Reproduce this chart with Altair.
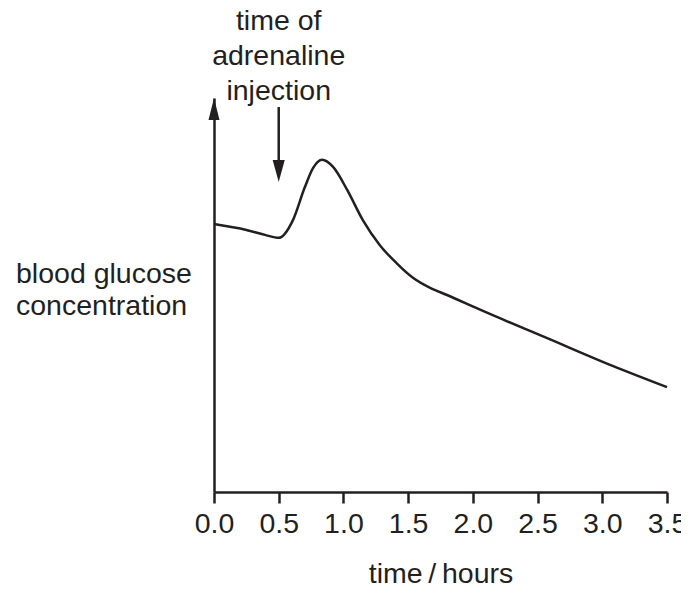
import altair as alt
import pandas as pd

INK = "#231f20"
FONT = "Liberation Sans"
FS = 28.5

# curve (time in hours, concentration in arbitrary units 0-100)
hours = [0.0, 0.25, 0.4, 0.5, 0.61, 0.70, 0.765, 0.835, 0.92, 1.03, 1.15, 1.28,
         1.41, 1.54, 1.67, 1.80, 2.06, 2.57, 3.08, 3.5]
glucose = [68.0, 66.5, 65.2, 64.5, 69.0, 77.2, 82.2, 84.3, 82.5, 76.6, 69.0, 62.7,
           58.1, 54.3, 51.8, 50.0, 46.2, 39.1, 32.0, 26.6]
x_ticks = [0.0, 0.5, 1.0, 1.5, 2.0, 2.5, 3.0, 3.5]

# annotation
injection_time = [0.5]
injection_top = [97.7]
injection_bottom = [80.5]
injection_head = [81.5]
annotation_lines = ["time of", "adrenaline", "injection"]
annotation_y = [-68, -33, 2]
ylabel_lines = ["blood glucose", "concentration"]
ylabel_y = [185, 217]
axis_arrow_time = [0.0]
axis_arrow_value = [97.2]

curve_df = pd.DataFrame({"time": hours, "glucose": glucose})
inj_df = pd.DataFrame({"time": injection_time, "top": injection_top,
                       "bottom": injection_bottom, "head": injection_head})
ann_df = pd.DataFrame({"time": injection_time * 3, "text": annotation_lines, "py": annotation_y})
ylab_df = pd.DataFrame({"text": ylabel_lines, "py": ylabel_y})
arrow_df = pd.DataFrame({"time": axis_arrow_time, "glucose": axis_arrow_value})

x_scale = alt.Scale(domain=[0, 3.5], nice=False, zero=False)
y_scale = alt.Scale(domain=[0, 100], nice=False, zero=False)

line = alt.Chart(curve_df).mark_line(
    color=INK, strokeWidth=2.5, interpolate="monotone"
).encode(
    x=alt.X("time:Q", scale=x_scale, axis=alt.Axis(
        values=x_ticks, format=".1f", title="time\u2009/\u2009hours",
        labelFont=FONT, titleFont=FONT, labelFontSize=FS, titleFontSize=FS,
        titleFontWeight="normal", labelColor=INK, titleColor=INK,
        tickSize=11, tickWidth=2.5, tickColor=INK,
        domainWidth=2.5, domainColor=INK, grid=False,
        labelBaseline="alphabetic", labelPadding=29, labelOverlap=False,
        labelFlush=False, labelBound=False,
        titleBaseline="alphabetic", titleY=90)),
    y=alt.Y("glucose:Q", scale=y_scale, axis=alt.Axis(
        title=None, labels=False, ticks=False, grid=False,
        domainWidth=2.5, domainColor=INK)),
)

yarrow = alt.Chart(arrow_df).mark_point(
    shape="M-0.5,1L0.5,1L0,-1Z", filled=True, size=484, color=INK, opacity=1
).encode(x=alt.X("time:Q", scale=x_scale), y=alt.Y("glucose:Q", scale=y_scale))

inj_rule = alt.Chart(inj_df).mark_rule(color=INK, strokeWidth=2.5).encode(
    x=alt.X("time:Q", scale=x_scale),
    y=alt.Y("top:Q", scale=y_scale),
    y2="bottom:Q",
)

inj_head = alt.Chart(inj_df).mark_point(
    shape="M-0.55,-1L0.55,-1L0,1Z", filled=True, size=484, color=INK, opacity=1
).encode(x=alt.X("time:Q", scale=x_scale), y=alt.Y("head:Q", scale=y_scale))

ann_text = alt.Chart(ann_df).mark_text(
    font=FONT, fontSize=FS, color=INK, align="center", baseline="alphabetic"
).encode(
    x=alt.X("time:Q", scale=x_scale),
    y=alt.Y("py:Q", scale=None),
    text="text:N",
)

ylab_text = alt.Chart(ylab_df).mark_text(
    font=FONT, fontSize=FS, color=INK, align="left", baseline="alphabetic"
).encode(
    x=alt.value(-198),
    y=alt.Y("py:Q", scale=None),
    text="text:N",
)

chart = alt.layer(line, yarrow, inj_rule, inj_head, ann_text, ylab_text).properties(
    width=453, height=394,
    padding={"left": 206, "top": 90, "right": 14, "bottom": 91},
    autosize=alt.AutoSizeParams(type="none"),
).configure_view(stroke=None)

chart.save("out.html", embed_options={"renderer": "svg", "actions": False})
